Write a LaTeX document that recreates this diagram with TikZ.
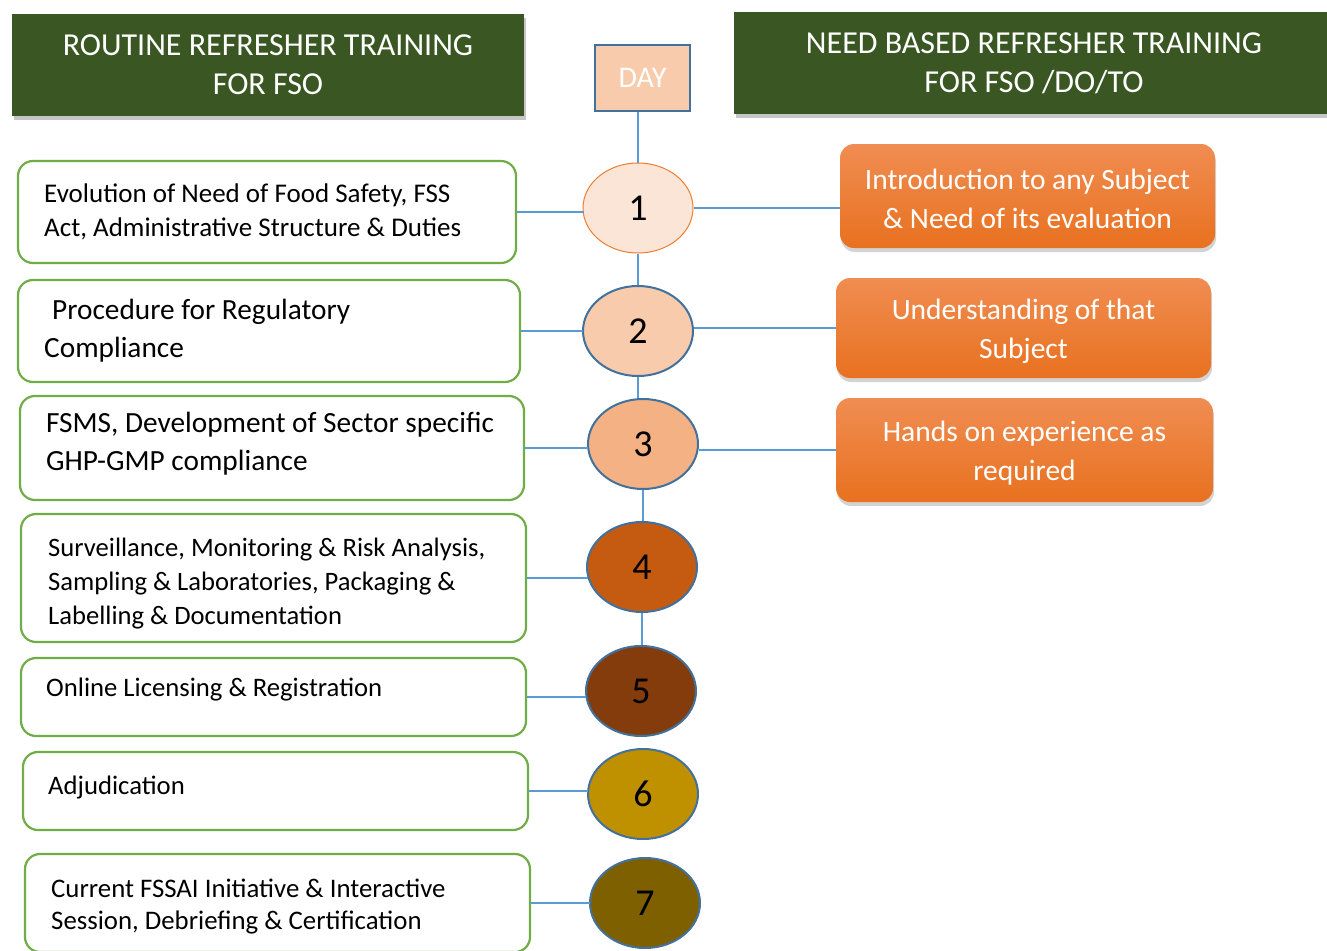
\documentclass[tikz,border=0pt]{standalone}
\usepackage{fontspec}
\setmainfont{Carlito}
\usetikzlibrary{shapes.geometric}
\usetikzlibrary{shadows}

\definecolor{hdrgreen}{HTML}{3A5723}
\definecolor{boxgreen}{HTML}{70AD47}
\definecolor{linkblue}{HTML}{5B9BD5}
\definecolor{rimblue}{HTML}{41719C}
\definecolor{rimorange}{HTML}{ED7D31}
\definecolor{dayfill}{HTML}{F8CBAD}
\definecolor{needtop}{HTML}{F08D52}
\definecolor{needbot}{HTML}{E8711F}
\definecolor{dayone}{HTML}{FBE5D6}
\definecolor{daytwo}{HTML}{F8CBAD}
\definecolor{daythree}{HTML}{F4B183}
\definecolor{dayfour}{HTML}{C55A11}
\definecolor{dayfive}{HTML}{843C0C}
\definecolor{daysix}{HTML}{BF9000}
\definecolor{dayseven}{HTML}{7F6000}

\tikzset{
  header/.style={fill=hdrgreen, text=white, align=center, minimum height=102pt,
    font=\fontsize{32}{39}\selectfont,
    drop shadow={shadow xshift=2pt, shadow yshift=-4pt, opacity=0.45}},
  topicbox/.style={draw=boxgreen, line width=2.2pt, rounded corners=15pt, fill=white},
  topictext/.style={anchor=base west, align=left, inner sep=0pt},
  daybubble/.style={ellipse, draw=rimblue, line width=2pt, minimum width=110pt,
    minimum height=90pt, inner sep=0pt, font=\fontsize{38}{42}\selectfont},
  needbox/.style={rounded corners=14pt, top color=needtop, bottom color=needbot,
    text=white, align=center, minimum width=375pt, inner sep=0pt,
    font=\fontsize{29.5}{39}\selectfont,
    drop shadow={shadow xshift=1pt, shadow yshift=-4pt, opacity=0.35}},
  link/.style={draw=linkblue, line width=1.2pt},
}

\begin{document}
\begin{tikzpicture}[x=1pt,y=-1pt]
\useasboundingbox (0,0) rectangle (1327,950);

% headers
\node[header, minimum width=512pt] (routine) at (268,65) {ROUTINE REFRESHER TRAINING\\FOR FSO};
\node[header, minimum width=600pt] (needbased) at (1034,63) {NEED BASED REFRESHER TRAINING\\FOR FSO /DO/TO};
\node[draw=rimblue, line width=2pt, fill=dayfill, text=white, minimum width=95pt,
  minimum height=66pt, font=\fontsize{30}{34}\selectfont] (day) at (642.5,78) {DAY};

% day bubbles
\node[daybubble, fill=dayone, draw=rimorange, line width=1pt] (c1) at (638,208) {1};
\node[daybubble, fill=daytwo] (c2) at (638,331) {2};
\node[daybubble, fill=daythree] (c3) at (643,444) {3};
\node[daybubble, fill=dayfour] (c4) at (642,567) {4};
\node[daybubble, fill=dayfive] (c5) at (641,691) {5};
\node[daybubble, fill=daysix] (c6) at (643,794) {6};
\node[daybubble, fill=dayseven] (c7) at (645,903) {7};

% routine topics
\node[topicbox, minimum width=498pt, minimum height=102pt] (b1) at (267,212) {};
\node[topicbox, minimum width=502pt, minimum height=102pt] (b2) at (269,331) {};
\node[topicbox, minimum width=504pt, minimum height=104pt] (b3) at (272,448) {};
\node[topicbox, minimum width=505pt, minimum height=128pt] (b4) at (273.5,578) {};
\node[topicbox, minimum width=505pt, minimum height=78pt] (b5) at (273.5,697) {};
\node[topicbox, minimum width=505pt, minimum height=78pt] (b6) at (275.5,791) {};
\node[topicbox, minimum width=505pt, minimum height=98pt] (b7) at (277.5,903) {};

% text sits on the baseline of its last line
\node[topictext, font=\fontsize{27}{34}\selectfont] (t1) at (44,236)
  {Evolution of Need of Food Safety, FSS\\Act, Administrative Structure \& Duties};
\node[topictext, font=\fontsize{29.3}{38}\selectfont] (t2) at (44,357.5)
  {\hspace*{8pt}Procedure for Regulatory\\Compliance};
\node[topictext, font=\fontsize{29.3}{38}\selectfont] (t3) at (46,470.5)
  {FSMS, Development of Sector specific\\GHP-GMP compliance};
\node[topictext, font=\fontsize{26.6}{34}\selectfont] (t4) at (48,624)
  {Surveillance, Monitoring \& Risk Analysis,\\Sampling \& Laboratories, Packaging \&\\Labelling \& Documentation};
\node[topictext, font=\fontsize{26.7}{34}\selectfont] (t5) at (46,696) {Online Licensing \& Registration};
\node[topictext, font=\fontsize{26.7}{34}\selectfont] (t6) at (48,794) {Adjudication};
\node[topictext, font=\fontsize{26.8}{32}\selectfont] (t7) at (51,929)
  {Current FSSAI Initiative \& Interactive\\Session, Debriefing \& Certification};

% need based topics
\node[needbox, minimum height=104pt] (needA) at (1027.5,196) {\rule{0pt}{27pt}Introduction to any Subject\\\& Need of its evaluation};
\node[needbox, minimum height=100pt] (needB) at (1023.5,328) {\rule{0pt}{27pt}Understanding of that\\Subject};
\node[needbox, minimum width=377pt, minimum height=104pt] (needC) at (1024.5,450) {\rule{0pt}{27pt}Hands on experience as\\required};

% spine
\draw[link] (c1.north |- day.south) -- (c1.north);
\draw[link] (c1.south) -- (c2.north);
\draw[link] (c2.south) -- (c2.south |- c3.north);
\draw[link] (c3.south) -- (c3.south |- c4.north);
\draw[link] (c4.south) -- (c4.south |- c5.north);

% left links
\draw[link] (b1.east) -- ([xshift=1pt]b1.east -| c1.west);
\draw[link] (b2.east) -- ([xshift=1pt]b2.east -| c2.west);
\draw[link] (b3.east) -- ([xshift=1pt]b3.east -| c3.west);
\draw[link] (b4.east) -- ([xshift=2pt]b4.east -| c4.west);
\draw[link] (b5.east) -- ([xshift=1pt]b5.east -| c5.west);
\draw[link] (b6.east) -- ([xshift=1pt]b6.east -| c6.west);
\draw[link] (b7.east) -- ([xshift=1pt]b7.east -| c7.west);

% right links
\draw[link] (c1.east) -- (c1.east -| needA.west);
\draw[link] (c2.east |- needB.west) -- (needB.west);
\draw[link] (c3.east |- needC.west) -- (needC.west);
\end{tikzpicture}
\end{document}
